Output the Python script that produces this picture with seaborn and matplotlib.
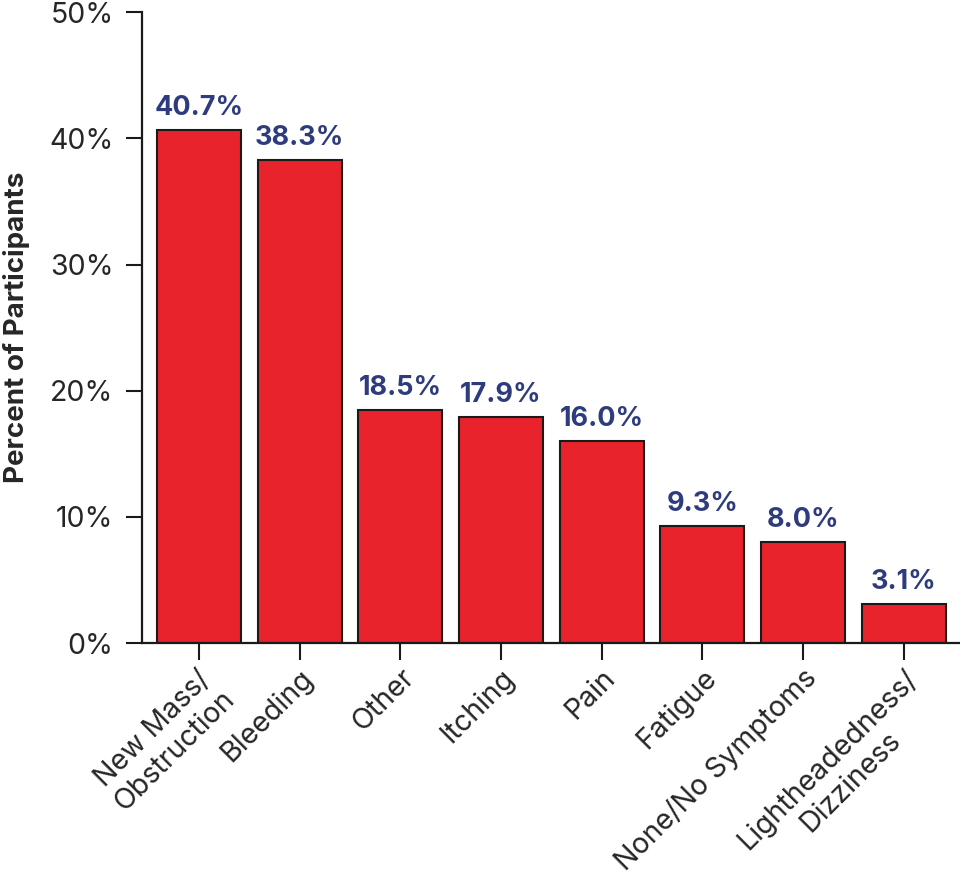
import numpy as np
import pandas as pd
import seaborn as sns
import matplotlib.pyplot as plt
from matplotlib.ticker import PercentFormatter

# data
symptoms = ["New Mass/\nObstruction", "Bleeding", "Other", "Itching", "Pain",
            "Fatigue", "None/No Symptoms", "Lightheadedness/\nDizziness"]
percent = [40.7, 38.3, 18.5, 17.9, 16.0, 9.3, 8.0, 3.1]

df = pd.DataFrame({"symptom": symptoms, "pct": percent})

sns.set_style("ticks")
plt.rcParams['font.family'] = ['Inter', 'DejaVu Sans']

fig = plt.figure(figsize=(9.6, 8.81), dpi=100)
ax = fig.add_axes([0.148, 0.270, 0.852, 0.716])

sns.barplot(data=df, x="symptom", y="pct", color="#E8232B", saturation=1,
            width=0.835, edgecolor="#1a1a1a", linewidth=1.5, ax=ax)

# value labels above bars
for i, v in enumerate(percent):
    ax.text(i, v + 0.7, f"{v:.1f}%", ha='center', va='bottom',
            fontsize=19.5, fontweight='bold', color="#2E3B7C")

ax.set_ylim(0, 50)
ax.set_xlim(-0.565, 7.56)
ax.set_yticks(np.arange(0, 51, 10))
ax.yaxis.set_major_formatter(PercentFormatter(decimals=0))
ax.set_xlabel("")
ax.set_ylabel("Percent of Participants", fontsize=20, fontweight='bold', labelpad=10)
ax.yaxis.set_label_coords(-0.137, 0.5)

ax.tick_params(axis='y', labelsize=20.5, length=11.5, width=1.5, color='#1a1a1a', pad=9)
ax.tick_params(axis='x', labelsize=20.5, length=12, width=1.5, color='#1a1a1a', pad=3)
plt.setp(ax.get_xticklabels(), rotation=45, ha='right', rotation_mode='anchor',
         multialignment='center')

sns.despine(ax=ax)
for s in ['left', 'bottom']:
    ax.spines[s].set_linewidth(1.6)
    ax.spines[s].set_color('#1a1a1a')

plt.savefig('out.png', dpi=100)
